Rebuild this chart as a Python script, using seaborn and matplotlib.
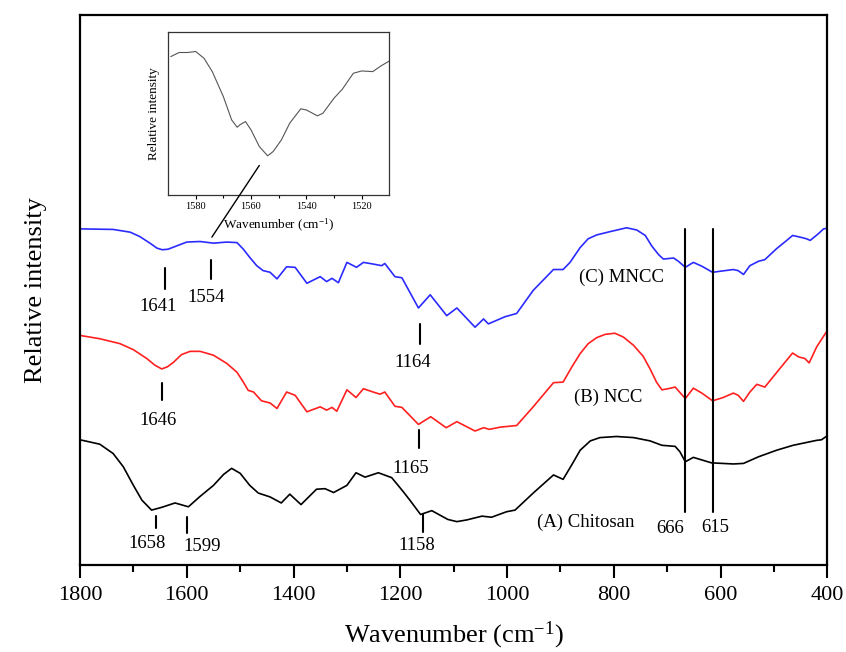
import numpy as np
import pandas as pd
import matplotlib
matplotlib.use("Agg")
import matplotlib.pyplot as plt
from matplotlib.patches import ConnectionPatch
import seaborn as sns

# spectra (wavenumber, relative intensity in arbitrary units)
mncc_wn = [1800, 1738, 1706, 1688, 1669, 1656, 1646, 1635, 1619, 1600, 1575, 1550, 1525, 1506,
           1494, 1482, 1469, 1457, 1444, 1431, 1413, 1397, 1375, 1350, 1338, 1328, 1316, 1300,
           1282, 1269, 1251, 1235, 1229, 1210, 1197, 1166, 1144, 1113, 1094, 1060, 1044, 1035,
           1004, 982, 951, 913, 895, 882, 863, 848, 832, 807, 776, 757, 741, 729, 716, 707, 688,
           679, 666, 651, 635, 615, 576, 567, 557, 545, 529, 517, 495, 476, 465, 451, 439, 432,
           417, 407, 401]
mncc_int = [61.2, 61.1, 60.6, 59.8, 58.6, 57.7, 57.4, 57.5, 58.1, 58.8, 58.9, 58.6, 58.8, 58.7,
            57.5, 56.0, 54.5, 53.6, 53.3, 52.1, 54.3, 54.2, 51.3, 52.5, 51.6, 52.2, 51.4, 55.1,
            54.2, 55.1, 54.8, 54.5, 54.9, 52.5, 52.3, 46.8, 49.2, 45.4, 46.8, 43.3, 44.8, 43.9,
            45.2, 45.8, 50.0, 53.8, 53.8, 55.1, 57.8, 59.4, 60.1, 60.7, 61.4, 61.0, 60.0, 58.1,
            56.5, 55.7, 55.9, 55.3, 54.2, 55.1, 54.4, 53.3, 53.8, 53.6, 52.9, 54.5, 55.3, 55.6,
            57.6, 59.1, 60.0, 59.7, 59.4, 59.1, 60.3, 61.2, 61.3]

ncc_wn = [1800, 1763, 1725, 1700, 1675, 1660, 1647, 1636, 1625, 1610, 1594, 1575, 1550, 1525,
          1506, 1494, 1485, 1475, 1460, 1444, 1431, 1413, 1397, 1375, 1350, 1338, 1328, 1319,
          1300, 1283, 1269, 1251, 1238, 1229, 1210, 1197, 1166, 1143, 1114, 1094, 1060, 1044,
          1033, 1013, 982, 951, 913, 895, 879, 863, 848, 832, 816, 798, 782, 763, 745, 732, 720,
          710, 698, 685, 666, 651, 635, 615, 595, 576, 567, 557, 545, 532, 517, 492, 465, 454,
          442, 434, 420, 402]
ncc_int = [41.8, 41.2, 40.3, 39.2, 37.6, 36.4, 35.7, 36.1, 36.9, 38.3, 38.9, 38.9, 38.2, 36.7,
           35.1, 33.3, 31.8, 31.5, 29.9, 29.5, 28.5, 31.5, 30.9, 27.9, 28.8, 28.2, 28.7, 28.0,
           31.9, 30.5, 32.1, 31.5, 31.1, 31.5, 28.9, 28.7, 25.6, 27.0, 25.0, 26.1, 24.4, 25.0,
           24.7, 25.1, 25.4, 28.8, 33.2, 33.3, 36.0, 38.5, 40.3, 41.4, 42.0, 42.2, 41.5, 40.0,
           38.0, 35.7, 33.3, 31.9, 32.1, 32.4, 30.3, 32.2, 31.3, 29.9, 30.5, 31.3, 30.9, 29.8,
           31.5, 32.9, 32.4, 35.4, 38.6, 37.9, 37.6, 36.8, 39.7, 42.4]

chitosan_wn = [1800, 1763, 1738, 1719, 1700, 1684, 1666, 1647, 1622, 1597, 1575, 1550, 1531,
               1516, 1500, 1482, 1466, 1444, 1423, 1407, 1386, 1357, 1341, 1325, 1300, 1283,
               1266, 1241, 1216, 1194, 1182, 1162, 1141, 1111, 1094, 1076, 1047, 1029, 1001,
               985, 951, 913, 895, 879, 863, 844, 826, 795, 763, 732, 710, 685, 676, 666, 651,
               617, 576, 557, 529, 495, 464, 420, 411, 402]
chitosan_int = [22.8, 22.0, 20.3, 17.9, 14.5, 11.8, 10.0, 10.5, 11.3, 10.6, 12.5, 14.5, 16.5,
                17.6, 16.7, 14.5, 13.1, 12.4, 11.3, 12.9, 11.0, 13.8, 13.9, 13.2, 14.5, 16.8,
                16.0, 16.8, 15.9, 13.3, 11.8, 9.2, 9.9, 8.3, 7.9, 8.2, 8.9, 8.7, 9.7, 10.0,
                13.1, 16.4, 15.6, 18.2, 20.9, 22.6, 23.2, 23.4, 23.2, 22.6, 21.8, 21.6, 20.6,
                18.8, 19.6, 18.6, 18.4, 18.5, 19.7, 20.9, 21.8, 22.7, 22.8, 23.4]

# inset: MNCC zoomed around the 1554 band
inset_wn = [1589, 1586, 1583, 1580, 1577, 1574, 1570, 1567, 1565, 1564, 1562, 1560, 1557, 1554,
            1552, 1549, 1546, 1542, 1540, 1536, 1534, 1530, 1527, 1523, 1520, 1516, 1513, 1510]
inset_int = [85.1, 87.6, 87.6, 88.2, 84.1, 75.9, 60.6, 46.3, 41.8, 43.3, 45.3, 40.2, 30.0, 24.3,
             26.9, 34.1, 44.3, 53.1, 52.4, 48.8, 50.4, 59.6, 65.1, 74.9, 76.3, 75.9, 79.4, 82.4]

# marked bands: (label, wavenumber, intensity range of the marker)
peak_labels = ["1641", "1554", "1164", "1646", "1165", "1658", "1599", "1158"]
peak_wn = [1641, 1554, 1164, 1646, 1165, 1658, 1599, 1158]
peak_lo = [50.3, 52.0, 40.3, 30.0, 21.3, 6.7, 5.8, 6.0]
peak_hi = [54.0, 55.6, 43.8, 33.1, 24.5, 8.9, 8.7, 9.3]

ref_lines = [666, 615]
series_names = ["(C) MNCC", "(B) NCC", "(A) Chitosan"]

sns.set_style("ticks")
plt.rcParams["font.family"] = ["Liberation Serif", "DejaVu Serif"]
plt.rcParams["mathtext.fontset"] = "custom"
plt.rcParams["mathtext.rm"] = "Liberation Serif"
plt.rcParams["mathtext.it"] = "Liberation Serif:italic"
plt.rcParams["text.color"] = "black"
plt.rcParams["axes.labelcolor"] = "black"
plt.rcParams["xtick.color"] = "black"
plt.rcParams["xtick.labelcolor"] = "black"

fig = plt.figure(figsize=(8.46, 6.52), dpi=100)
ax = fig.add_axes([0.0946, 0.1334, 0.8833, 0.8441])

spectra = [
    (mncc_wn, mncc_int, "#2b2bff"),
    (ncc_wn, ncc_int, "#ff2020"),
    (chitosan_wn, chitosan_int, "black"),
]
for wn, inten, col in spectra:
    df = pd.DataFrame({"wn": wn, "y": inten})
    sns.lineplot(data=df, x="wn", y="y", ax=ax, color=col, lw=1.2, sort=False)

for w in ref_lines:
    ax.plot([w, w], [9.6, 61.1], color="black", lw=1.5)

for lab, w, lo, hi in zip(peak_labels, peak_wn, peak_lo, peak_hi):
    ax.plot([w, w], [lo, hi], color="black", lw=1.5)

# label positions (wavenumber, intensity)
label_pos = {
    "1641": (1654, 47.1), "1554": (1564, 48.7), "1164": (1176, 36.9),
    "1646": (1654, 26.3), "1165": (1180, 17.6), "1658": (1674, 4.0),
    "1599": (1571, 3.3), "1158": (1169, 3.5),
}
for lab in peak_labels:
    x, y = label_pos[lab]
    ax.text(x, y, lab, ha="center", va="center", fontsize=13.5)
ax.text(695, 6.7, "666", ha="center", va="center", fontsize=13.5)
ax.text(609, 6.9, "615", ha="center", va="center", fontsize=13.5)

name_pos = [(785, 52.3), (811, 30.5), (852, 7.8)]
for name, (x, y) in zip(series_names, name_pos):
    ax.text(x, y, name, ha="center", va="center", fontsize=13.5)

ax.set_xlim(1800, 400)
ax.set_ylim(0, 100.2)
ax.set_xticks(np.arange(1800, 399, -200))
ax.set_xticks(np.arange(1700, 400, -200), minor=True)
ax.set_yticks([])
ax.tick_params(axis="x", which="major", direction="out", length=9, width=1.5, labelsize=16, pad=6)
ax.tick_params(axis="x", which="minor", direction="out", length=5, width=1.5)
for s in ax.spines.values():
    s.set_linewidth(1.6)
    s.set_color("black")
ax.set_xlabel("Wavenumber (cm$^{-1}$)", fontsize=19, labelpad=11)
ax.set_ylabel("Relative intensity", fontsize=19, labelpad=24)

# inset
axin = fig.add_axes([0.1986, 0.7002, 0.2616, 0.2503])
df_in = pd.DataFrame({"wn": inset_wn, "y": inset_int})
sns.lineplot(data=df_in, x="wn", y="y", ax=axin, color="#555555", lw=0.8, sort=False)
axin.set_xlim(1590, 1510)
axin.set_ylim(0, 100)
axin.set_xticks([1580, 1560, 1540, 1520])
axin.set_xticks([1570, 1550, 1530], minor=True)
axin.set_yticks([])
axin.tick_params(axis="x", which="major", direction="out", length=3, width=0.8, labelsize=7.5, pad=2)
axin.tick_params(axis="x", which="minor", direction="out", length=2, width=0.8)
for s in axin.spines.values():
    s.set_linewidth(0.9)
    s.set_color("#333333")
axin.set_xlabel("Wavenumber (cm$^{-1}$)", fontsize=9.5, labelpad=4)
axin.set_ylabel("Relative intensity", fontsize=9.5, labelpad=6)

con = ConnectionPatch(xyA=(1557, 18.4), coordsA=axin.transData,
                      xyB=(1553, 59.7), coordsB=ax.transData,
                      color="black", lw=1.0)
fig.add_artist(con)

fig.savefig("out.png", dpi=100)
